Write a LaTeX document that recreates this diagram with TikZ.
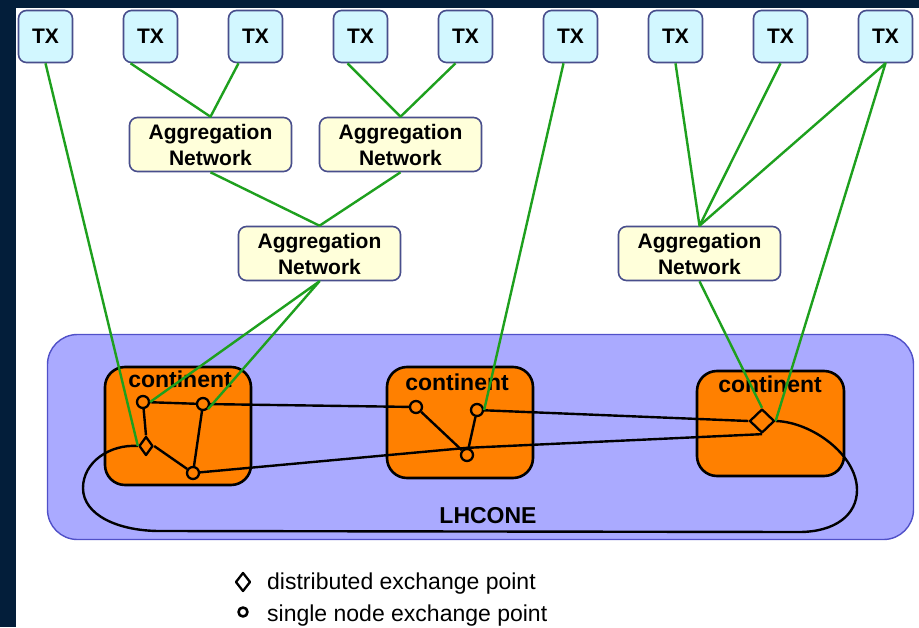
\documentclass[tikz,border=0pt]{standalone}
\usepackage{fontspec}
\setmainfont{Liberation Sans}
\usepackage{tikz}
\usetikzlibrary{shapes.geometric}
\definecolor{navy}{RGB}{3,30,58}
\definecolor{txcyan}{RGB}{210,247,255}
\definecolor{aggyellow}{RGB}{255,255,218}
\definecolor{boxedge}{RGB}{72,78,140}
\definecolor{lhblue}{RGB}{170,170,255}
\definecolor{lhedge}{RGB}{80,80,200}
\definecolor{contorange}{RGB}{255,128,0}
\definecolor{linkgreen}{RGB}{30,160,30}
\tikzset{every node/.append style={inner sep=0pt}}

\begin{document}
\begin{tikzpicture}[x=1pt, y=-1pt, line join=round,
    txbox/.style={draw=boxedge, line width=1.6pt, fill=txcyan, rounded corners=8pt,
      minimum width=54pt, minimum height=52pt, font=\fontsize{21}{25}\selectfont\bfseries},
    aggbox/.style={draw=boxedge, line width=1.6pt, fill=aggyellow, rounded corners=8pt,
      minimum width=162pt, minimum height=54pt, align=center, font=\fontsize{21}{26}\selectfont\bfseries},
    lhbox/.style={draw=lhedge, line width=1.4pt, fill=lhblue, rounded corners=30pt},
    contbox/.style={draw=black, line width=2.6pt, fill=contorange, rounded corners=20pt},
    conttext/.style={anchor=base, font=\fontsize{23}{27}\selectfont\bfseries},
    single/.style={circle, draw=black, line width=2.3pt, fill=contorange, minimum size=12pt},
    distrib/.style={diamond, draw=black, line width=2.3pt, fill=contorange, minimum width=14pt, minimum height=19pt},
    link/.style={line width=2.4pt, black},
    uplink/.style={line width=2.4pt, linkgreen},
    legend/.style={anchor=base west, font=\fontsize{23}{27}\selectfont}]
    \fill[navy] (0,0) rectangle (919,627);
    \fill[white] (16,8) rectangle (919,627);
    \useasboundingbox (0,0) rectangle (919,627);

    \foreach \i in {1,...,9}
        \node[txbox] (T\i) at ({45.5+105*(\i-1)},36.5) {TX};
    \node[aggbox] (A1) at (210.5,144.5) {Aggregation\\Network};
    \node[aggbox] (A2) at (400.5,144.5) {Aggregation\\Network};
    \node[aggbox] (A3) at (319.5,253.5) {Aggregation\\Network};
    \node[aggbox] (A4) at (699.5,253.5) {Aggregation\\Network};

    \node[lhbox, minimum width=866pt, minimum height=205pt] (L) at (480.5,437) {};
    \node[conttext] (Lt) at (488,523) {LHCONE};
    \node[contbox, minimum width=146pt, minimum height=118pt] (C1) at (178,426) {};
    \node[contbox, minimum width=146pt, minimum height=111pt] (C2) at (460,422.5) {};
    \node[contbox, minimum width=147pt, minimum height=105pt] (C3) at (770.5,423.5) {};
    \node[conttext] (C1t) at (180,387) {continent};
    \node[conttext] (C2t) at (457,390) {continent};
    \node[conttext] (C3t) at (770,392) {continent};

    \node[distrib] (D1) at (146,446) {};
    \node[single] (P1) at (143,402) {};
    \node[single] (P2) at (203,404) {};
    \node[single] (P3) at (193,473) {};
    \node[single] (P4) at (416,407) {};
    \node[single] (P5) at (477,410) {};
    \node[single] (P6) at (467,455) {};
    \node[distrib, minimum width=25pt, minimum height=24pt] (D3) at (762,421) {};

    \draw[link] (P1) -- (P2) (P1) -- (D1.north) (P2) -- (P3) (D1.east) -- (P3)
        (P2) -- (P4) (P4) -- (P6) (P5) -- (P6) (P5) -- (D3.west);
    \draw[link] (P3) -- (P6.north) -- (D3.south);
    \draw[link] (D1.west) .. controls (110,444) and (83,462) .. (83,488)
        .. controls (83,515) and (118,531) .. (160,531) -- (799,532)
        .. controls (835,532) and (857,515) .. (857,490)
        .. controls (857,455) and (812,422) .. (D3.east);

    \draw[uplink] (T1.south) -- (D1.west);
    \draw[uplink] ([xshift=-20pt]T2.south) -- (A1.north) -- ([xshift=-17pt]T3.south);
    \draw[uplink] ([xshift=-13pt]T4.south) -- (A2.north) -- ([xshift=-10pt]T5.south);
    \draw[uplink] (A1.south) -- (A3.north) -- (A2.south);
    \draw[uplink] (P1.east) -- (A3.south) -- (P2.south east);
    \draw[uplink] ([xshift=-7pt]T6.south) -- (P5.east);
    \draw[uplink] (T7.south) -- (A4.north) -- (T8.south);
    \draw[uplink] (A4.north) -- (T9.south) -- (D3.east);
    \draw[uplink] (A4.south) -- (D3.north);

    \node[distrib, fill=white, minimum width=15pt, minimum height=19pt] (LD) at (243,582) {};
    \node[single, fill=white, line width=2.6pt, minimum size=9pt] (LS) at (243,612) {};
    \node[legend] (LDt) at (267,589) {distributed exchange point};
    \node[legend] (LSt) at (267,621) {single node exchange point};
\end{tikzpicture}
\end{document}
